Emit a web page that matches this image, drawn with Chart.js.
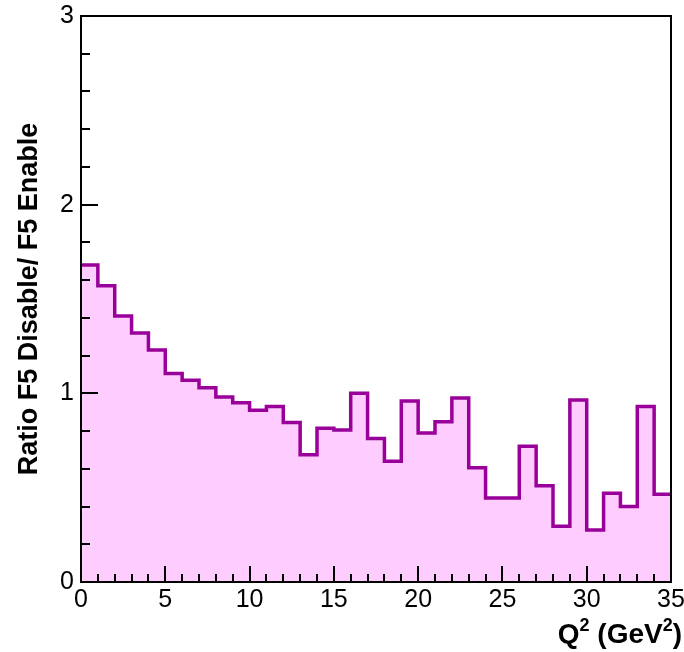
<!DOCTYPE html>
<html>
<head>
<meta charset="utf-8">
<title>Ratio F5 Disable / F5 Enable vs Q2</title>
<script src="https://cdn.jsdelivr.net/npm/chart.js@4/dist/chart.umd.min.js"></script>
<style>
  html, body { margin: 0; padding: 0; background: #ffffff; }
  #wrap { width: 684px; height: 652px; }
</style>
</head>
<body>
<div id="wrap"><canvas id="c" width="684" height="652"></canvas></div>
<script>
// Q^2 bin edges (GeV^2), one bin per unit
const binEdges = [0, 1, 2, 3, 4, 5, 6, 7, 8, 9, 10, 11, 12, 13, 14, 15, 16, 17,
                  18, 19, 20, 21, 22, 23, 24, 25, 26, 27, 28, 29, 30, 31, 32, 33, 34, 35];

// Ratio of F5-disabled to F5-enabled yields, one value per bin
const ratioValues = [1.68, 1.57, 1.41, 1.32, 1.23, 1.105, 1.07, 1.03, 0.98, 0.95,
                     0.91, 0.93, 0.845, 0.675, 0.815, 0.805, 1.0, 0.76, 0.64, 0.96,
                     0.79, 0.85, 0.975, 0.605, 0.445, 0.445, 0.72, 0.51, 0.295, 0.965,
                     0.275, 0.47, 0.40, 0.93, 0.465];

// Axis ranges and labelled tick steps
const xRange = [0, 35];
const yRange = [0, 3];
const xMajorStep = 5, xMinorStep = 1;
const yMajorStep = 1, yMinorStep = 0.2;

const xTitleMain = 'Q';
const xTitleUnit = ' (GeV';
const yTitle = 'Ratio F5 Disable/ F5 Enable';

// Step outline: each point sits on a bin's low edge; the last edge repeats the last bin
const histPoints = binEdges.map((e, i) => ({
  x: e,
  y: ratioValues[Math.min(i, ratioValues.length - 1)]
}));

const FONT = '"Liberation Sans", Arial, Helvetica, sans-serif';

// Frame, inward ticks and axis titles in the classic physics-plot style
const framePlugin = {
  id: 'frame',
  afterDatasetsDraw(chart) {
    const ctx = chart.ctx;
    const a = chart.chartArea;
    const xs = chart.scales.x, ys = chart.scales.y;
    ctx.save();
    ctx.strokeStyle = '#000';
    ctx.lineWidth = 2;
    ctx.lineCap = 'butt';

    // x ticks (pointing up into the plot)
    for (let v = xRange[0]; v <= xRange[1] + 1e-9; v += xMinorStep) {
      const px = Math.round(xs.getPixelForValue(v));
      const major = Math.abs(v / xMajorStep - Math.round(v / xMajorStep)) < 1e-6;
      const len = major ? 16 : 8;
      ctx.beginPath();
      ctx.moveTo(px, a.bottom);
      ctx.lineTo(px, a.bottom - len);
      ctx.stroke();
    }
    // y ticks (pointing right into the plot)
    for (let v = yRange[0]; v <= yRange[1] + 1e-9; v += yMinorStep) {
      const py = Math.round(ys.getPixelForValue(v));
      const major = Math.abs(v / yMajorStep - Math.round(v / yMajorStep)) < 1e-6;
      const len = major ? 17 : 9;
      ctx.beginPath();
      ctx.moveTo(a.left, py);
      ctx.lineTo(a.left + len, py);
      ctx.stroke();
    }

    // frame
    ctx.strokeRect(a.left, a.top, a.right - a.left, a.bottom - a.top);

    // x-axis title, right-aligned near the end of the axis
    ctx.fillStyle = '#000';
    ctx.textBaseline = 'alphabetic';
    const big = 'bold 28px ' + FONT;
    const small = 'bold 18px ' + FONT;
    const baseY = 643;
    const pieces = [
      { t: xTitleMain, f: big, dy: 0 },
      { t: '2', f: small, dy: -12 },
      { t: xTitleUnit, f: big, dy: 0 },
      { t: '2', f: small, dy: -12 },
      { t: ')', f: big, dy: 0 }
    ];
    let total = 0;
    pieces.forEach(p => { ctx.font = p.f; total += ctx.measureText(p.t).width; });
    let x = 682 - total;
    ctx.textAlign = 'left';
    pieces.forEach(p => {
      ctx.font = p.f;
      ctx.fillText(p.t, x, baseY + p.dy);
      x += ctx.measureText(p.t).width;
    });

    // y-axis title, rotated and centred on the axis
    ctx.save();
    ctx.translate(37, (a.top + a.bottom) / 2);
    ctx.rotate(-Math.PI / 2);
    ctx.font = 'bold 27px ' + FONT;
    ctx.textAlign = 'center';
    ctx.fillText(yTitle, 0, 0);
    ctx.restore();

    ctx.restore();
  }
};

new Chart(document.getElementById('c'), {
  type: 'line',
  data: {
    datasets: [{
      data: histPoints,
      stepped: 'before',
      borderColor: '#990099',
      borderWidth: 3.5,
      backgroundColor: '#ffccff',
      fill: 'origin',
      pointRadius: 0,
      pointHoverRadius: 0,
      tension: 0
    }]
  },
  options: {
    responsive: false,
    animation: false,
    devicePixelRatio: 1,
    layout: { padding: { top: 16, right: 13, left: 0, bottom: 0 } },
    plugins: { legend: { display: false }, tooltip: { enabled: false } },
    scales: {
      x: {
        type: 'linear',
        min: xRange[0],
        max: xRange[1],
        grid: { display: false, drawTicks: false },
        border: { display: false },
        ticks: {
          stepSize: xMajorStep,
          autoSkip: false,
          maxRotation: 0,
          padding: 3,
          color: '#000',
          font: { family: FONT, size: 25 }
        },
        afterFit(scale) {
          scale.height = 70;
          scale.paddingLeft = 0;
          scale.paddingRight = 0;
        }
      },
      y: {
        type: 'linear',
        min: yRange[0],
        max: yRange[1],
        grid: { display: false, drawTicks: false },
        border: { display: false },
        ticks: {
          stepSize: yMajorStep,
          padding: 7,
          color: '#000',
          font: { family: FONT, size: 25 }
        },
        afterFit(scale) {
          scale.width = 81;
          scale.paddingTop = 0;
          scale.paddingBottom = 0;
        }
      }
    }
  },
  plugins: [framePlugin]
});
</script>
</body>
</html>
